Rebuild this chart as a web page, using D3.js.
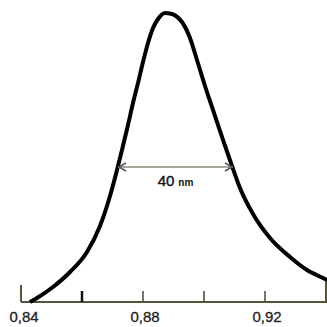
<!DOCTYPE html>
<html><head><meta charset="utf-8">
<script src="https://cdn.jsdelivr.net/npm/d3@7/dist/d3.min.js"></script>
<style>html,body{margin:0;padding:0;background:#fff;}svg{display:block;}</style>
</head><body>
<svg id="c" width="327" height="327"></svg>
<script>
const wavelength = [0.84295,0.84525,0.85049,0.85607,0.86164,0.86590,0.86918,0.87148,0.87311,0.87508,0.87672,0.87836,0.88000,0.88164,0.88328,0.88492,0.88721,0.88885,0.89082,0.89279,0.89541,0.89770,0.90033,0.90295,0.90623,0.90918,0.91180,0.91607,0.92164,0.92820,0.93377,0.93902,0.94033];
const intensity  = [0.000,0.0138,0.0519,0.1038,0.1730,0.2630,0.3668,0.4567,0.5260,0.6125,0.6886,0.7578,0.8304,0.8962,0.9481,0.9792,1.000,0.9983,0.9896,0.9689,0.9135,0.8374,0.7474,0.6644,0.5606,0.4706,0.3945,0.3045,0.2215,0.1557,0.1107,0.0830,0.0761];
const tickValues = [0.84,0.86,0.88,0.90,0.92,0.94];
const tickLabels = ["0,84","","0,88","","0,92",""];
const fwhm = {from:0.8718, to:0.9095, level:0.474, label:"40", unit:"nm"};

const svg = d3.select("#c");
const x = d3.scaleLinear().domain([0.84,0.94]).range([21,326]);
const y = d3.scaleLinear().domain([0,1]).range([302,13]);

// axis
const axisColor = "#55553a";
svg.append("line").attr("x1",x(0.84)).attr("x2",327).attr("y1",y(0)).attr("y2",y(0))
  .attr("stroke",axisColor).attr("stroke-width",2);
tickValues.forEach((v,i)=>{
  const tall = (i===0||i===tickValues.length-1);
  const len = i===0?17:(i===tickValues.length-1?22:11);
  svg.append("line").attr("x1",x(v)).attr("x2",x(v)).attr("y1",y(0)).attr("y2",y(0)-len)
    .attr("stroke",i===1?"#111":axisColor).attr("stroke-width",i===1?2.5:(tall?2:1.6));
  if(tickLabels[i]) svg.append("text").attr("x",x(v)+(i===0?3:2)).attr("y",322)
    .attr("text-anchor","middle").attr("font-family","Liberation Sans, Arial, sans-serif")
    .attr("font-size",15).attr("fill","#222").attr("stroke","#222").attr("stroke-width",0.3)
    .text(tickLabels[i]);
});

// curve
const pts = wavelength.map((w,i)=>[w,intensity[i]]);
svg.append("path").datum(pts)
  .attr("d",d3.line().x(d=>x(d[0])).y(d=>y(d[1])).curve(d3.curveMonotoneX))
  .attr("fill","none").attr("stroke","#000").attr("stroke-width",4).attr("stroke-linejoin","round");

// FWHM arrow
const ay = y(fwhm.level)+2;
const x1 = x(fwhm.from), x2 = x(fwhm.to);
svg.append("line").attr("x1",x1).attr("x2",x2).attr("y1",ay).attr("y2",ay)
  .attr("stroke","#8a8a7a").attr("stroke-width",1.5);
svg.append("path").attr("d",`M${x1+8},${ay-4}L${x1+1},${ay}L${x1+8},${ay+4}`)
  .attr("fill","none").attr("stroke","#555").attr("stroke-width",1.5);
svg.append("path").attr("d",`M${x2-8},${ay-4}L${x2-1},${ay}L${x2-8},${ay+4}`)
  .attr("fill","none").attr("stroke","#555").attr("stroke-width",1.5);
const t = svg.append("text").attr("x",(x1+x2)/2).attr("y",186).attr("text-anchor","middle")
  .attr("font-family","Liberation Sans, Arial, sans-serif").attr("fill","#111");
t.append("tspan").attr("font-size",15).attr("stroke","#111").attr("stroke-width",0.4).text(fwhm.label);
t.append("tspan").attr("font-size",10).attr("dx",4).attr("font-weight","bold").text(fwhm.unit);
</script>
</body></html>
